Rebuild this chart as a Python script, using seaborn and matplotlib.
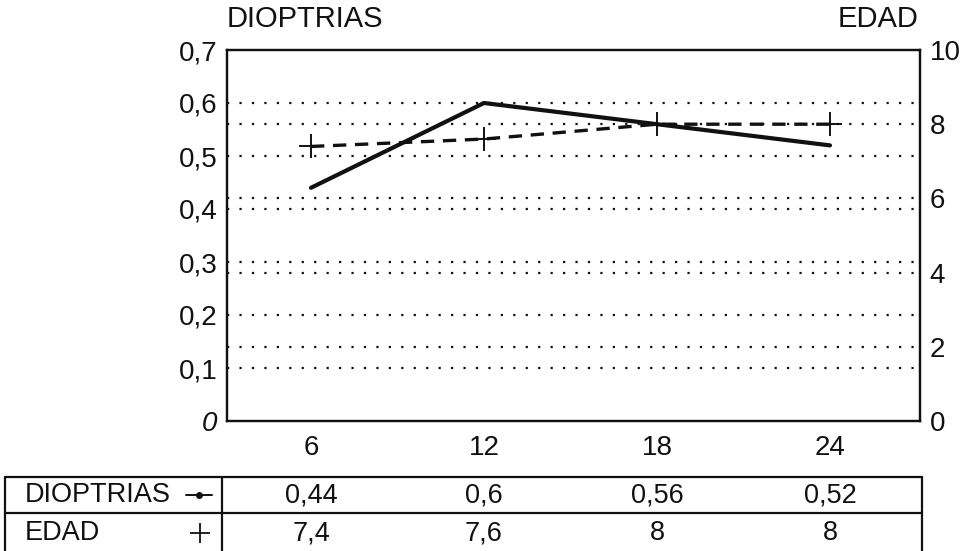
import matplotlib
matplotlib.use("Agg")
import matplotlib.pyplot as plt
import seaborn as sns
import pandas as pd

# ---- data ----
meses = ["6", "12", "18", "24"]
dioptrias = [0.44, 0.60, 0.56, 0.52]
edad = [7.4, 7.6, 8.0, 8.0]
left_ticks = [0, 0.1, 0.2, 0.3, 0.4, 0.5, 0.6, 0.7]
left_labels = ["0", "0,1", "0,2", "0,3", "0,4", "0,5", "0,6", "0,7"]
right_ticks = [0, 2, 4, 6, 8, 10]
right_labels = ["0", "2", "4", "6", "8", "10"]
serie_names = ["DIOPTRIAS", "EDAD"]

sns.set_theme(style="white")
plt.rcParams["font.family"] = ["Liberation Sans", "DejaVu Sans"]

INK = "#111111"
W, H = 966, 551
fig = plt.figure(figsize=(W / 100, H / 100), dpi=100)
fig.patch.set_facecolor("white")

# pixel helpers
X0, DX = 311.0, 173.0          # px of first category, px per category
def xd(px):
    return (px - X0) / DX

# overlay axes (whole figure) for table
axt = fig.add_axes([0, 0, 1, 1])
axt.set_xlim(xd(0), xd(W))
axt.set_ylim(H, 0)
axt.axis("off")

# main axes
L, R, T, B = 227, 920, 50, 421
ax = fig.add_axes([L / W, (H - B) / H, (R - L) / W, (B - T) / H])
ax.set_facecolor("none")

df = pd.DataFrame({"mes": meses, "dioptrias": dioptrias, "edad": edad})

sns.lineplot(data=df, x="mes", y="dioptrias", ax=ax, sort=False,
             color=INK, linewidth=3.0, solid_capstyle="round", zorder=5)

ax2 = ax.twinx()
sns.lineplot(data=df, x="mes", y="edad", ax=ax2, sort=False,
             color=INK, linewidth=2.4, marker="+", markersize=17,
             markeredgewidth=1.4, markeredgecolor=INK, zorder=5)
ax2.lines[0].set_dashes([4, 2.6])

xl = (xd(L), xd(R))
ax.set_xlim(*xl)
ax2.set_xlim(*xl)
ax.set_ylim(0, 0.7)
ax2.set_ylim(0, 10)

ax.set_yticks(left_ticks)
ax.set_yticklabels(left_labels)
ax.get_yticklabels()[0].set_style("italic")
ax2.set_yticks(right_ticks)
ax2.set_yticklabels(right_labels)

for a in (ax, ax2):
    a.set_xlabel("")
    a.set_ylabel("")
    a.tick_params(length=0, labelsize=20, colors=INK)
ax.tick_params(axis="y", pad=7)
ax2.tick_params(axis="y", pad=7)
ax.tick_params(axis="x", pad=10)

# dotted grid lines at both sets of ticks
dot = dict(color=INK, linewidth=1.6, linestyle=(0, (1, 4.6)))
for v in left_ticks[1:-1]:
    ax.axhline(v, zorder=1, **dot)
for v in right_ticks[1:-1]:
    ax2.axhline(v, zorder=1, **dot)

for a in (ax, ax2):
    for s in a.spines.values():
        s.set_color(INK)
        s.set_linewidth(1.6)

# axis titles
fig.text(L / W, 1 - 19 / H, "DIOPTRIAS", fontsize=21, color=INK,
         ha="left", va="center")
fig.text(918 / W, 1 - 19 / H, "EDAD", fontsize=21, color=INK,
         ha="right", va="center")

# ---- table ----
def fmt(v):
    return f"{v:g}".replace(".", ",")

tl, tr = xd(5), xd(922)
div = xd(222)
ytop, ymid, ybot = 477, 513, 551
lw = 1.6
axt.plot([tl, tr], [ytop, ytop], color=INK, lw=lw)
axt.plot([tl, tr], [ymid, ymid], color=INK, lw=lw)
axt.plot([tl, tl], [ytop, ybot], color=INK, lw=lw)
axt.plot([tr, tr], [ytop, ybot], color=INK, lw=lw)
axt.plot([div, div], [ytop, ybot], color=INK, lw=lw)

rows_y = [495, 533]
for name, yy in zip(serie_names, rows_y):
    axt.text(xd(25), yy, name, fontsize=19.5, color=INK, ha="left", va="center")
# legend keys in table
axt.plot([xd(186), xd(212)], [rows_y[0], rows_y[0]], color=INK, lw=1.4)
axt.plot([xd(199)], [rows_y[0]], marker="o", markersize=4, color=INK)
axt.plot([xd(200)], [rows_y[1]], marker="+", markersize=15,
         markeredgewidth=1.3, color=INK)

for i, (d, e) in enumerate(zip(dioptrias, edad)):
    axt.text(i, rows_y[0], fmt(d), fontsize=19.5, color=INK,
             ha="center", va="center")
    axt.text(i, rows_y[1], fmt(e), fontsize=19.5, color=INK,
             ha="center", va="center")

fig.savefig("out.png", dpi=100, facecolor="white")
